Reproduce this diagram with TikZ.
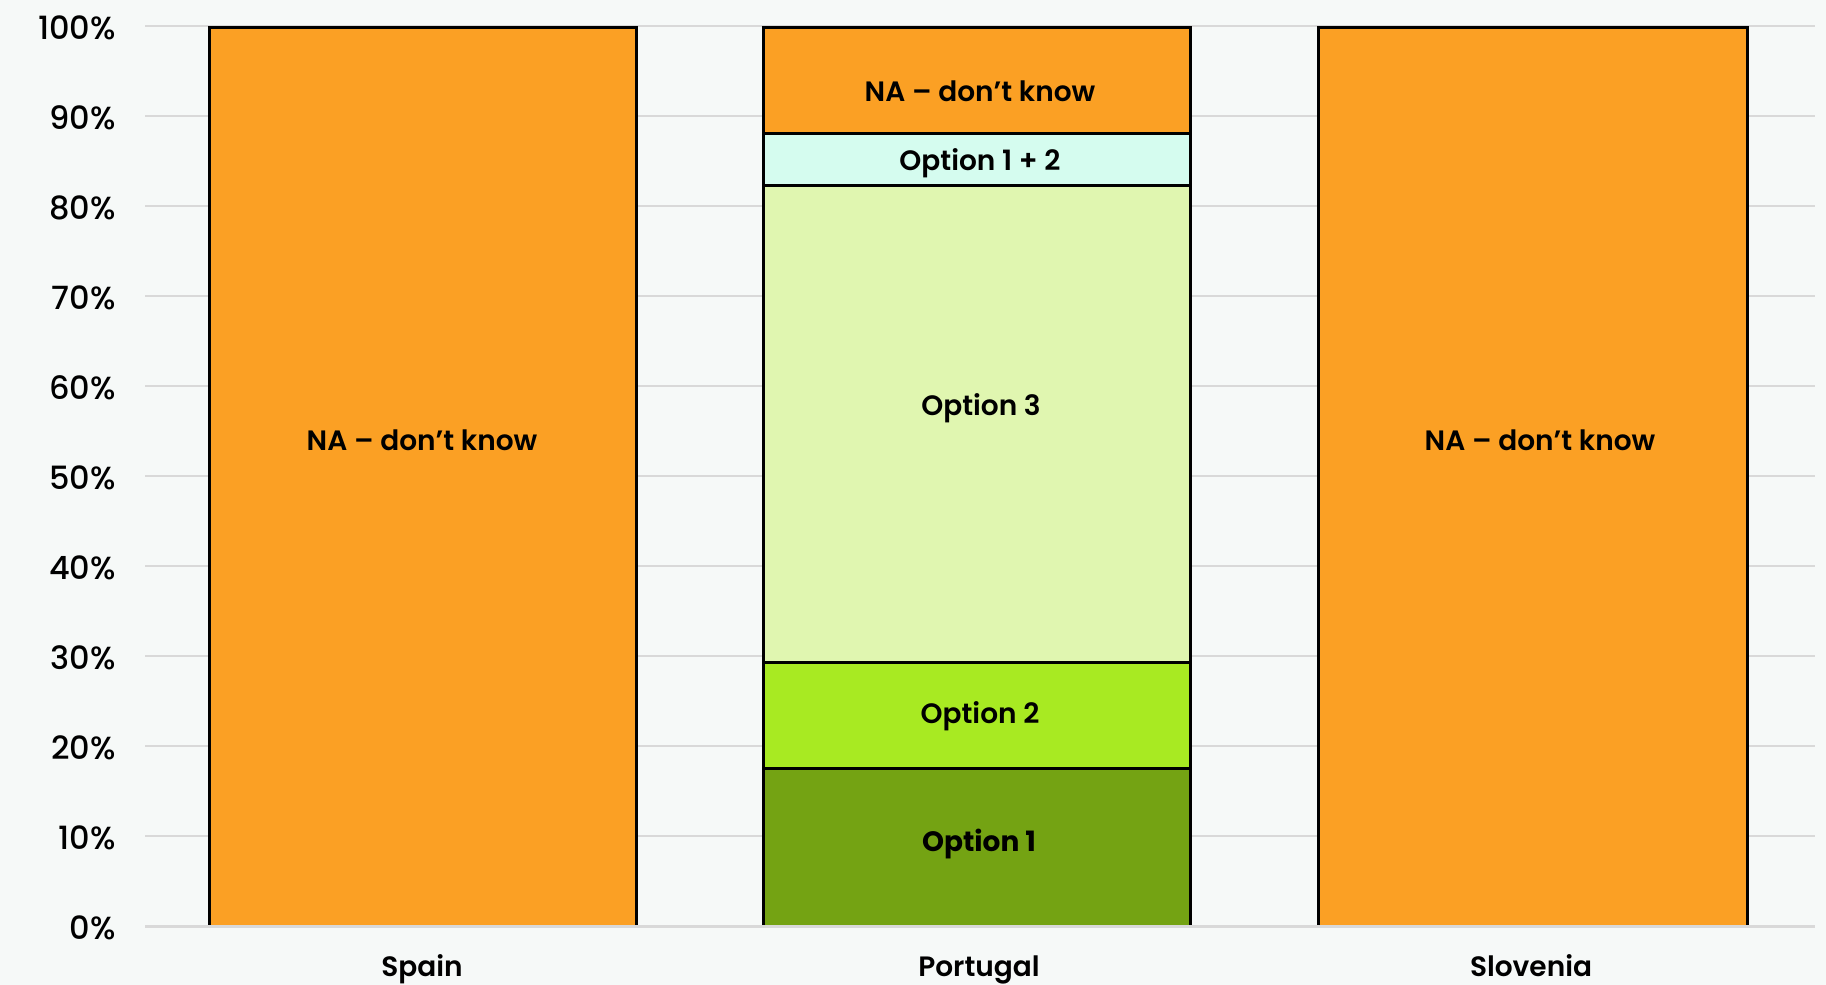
\documentclass[tikz,border=0pt]{standalone}
\usepackage{fontspec}
\setmainfont{Poppins}
\newfontfamily\semib{Poppins SemiBold}
\newfontfamily\medf{Poppins Medium}
\definecolor{bg}{HTML}{F6F9F8}
\definecolor{gridc}{HTML}{D9D9D9}
\definecolor{nac}{HTML}{FBA024}
\definecolor{ootc}{HTML}{D5FCEF}
\definecolor{othreec}{HTML}{E0F6B0}
\definecolor{otwoc}{HTML}{A8EA22}
\definecolor{oonec}{HTML}{74A313}
\begin{document}
\begin{tikzpicture}[x=1pt,y=-1pt,
  seg/.style={draw=black,line width=3pt},
  lbl/.style={font=\fontsize{28}{30}\selectfont\semib,inner sep=0pt},
  cat/.style={font=\fontsize{28}{30}\selectfont\semib,inner sep=0pt,anchor=base},
  tick/.style={anchor=east,font=\fontsize{32}{34}\selectfont\medf,inner sep=0pt}]
\useasboundingbox[fill=bg] (0,0) rectangle (1826,985);
\foreach \k in {0,...,10}{
  \draw[gridc,line width=2pt] (145,{926-90*\k}) -- (1815,{926-90*\k});
  \node[tick] (t\k) at (116,{928-90*\k}) {\the\numexpr\k*10\relax\%};
}
% Spain
\draw[seg,fill=nac] (209,27) rectangle (636,926);
% Portugal
\draw[seg,fill=oonec] (763,768) rectangle (1190,926);
\draw[seg,fill=otwoc] (763,662) rectangle (1190,768);
\draw[seg,fill=othreec] (763,185) rectangle (1190,662);
\draw[seg,fill=ootc] (763,133) rectangle (1190,185);
\draw[seg,fill=nac] (763,27) rectangle (1190,133);
% Slovenia
\draw[seg,fill=nac] (1318,27) rectangle (1747,926);
\draw[gridc,line width=3pt] (145,926) -- (1815,926);
% labels
\node[lbl] (sna) at (422,440) {NA – don’t know};
\node[lbl] (pna) at (980,91) {NA – don’t know};
\node[lbl] (p12) at (980,163) {Option 1 + 2};
\node[lbl] (p3) at (981,408) {Option 3};
\node[lbl] (p2) at (980,716) {Option 2};
\node[lbl,font=\fontsize{28}{30}\selectfont\bfseries] (p1) at (979,844) {Option 1};
\node[lbl] (vna) at (1540,440) {NA – don’t know};
\node[cat] (cs) at (422,976) {Spain};
\node[cat] (cp) at (979,976) {Portugal};
\node[cat] (cv) at (1531,976) {Slovenia};
\end{tikzpicture}
\end{document}
